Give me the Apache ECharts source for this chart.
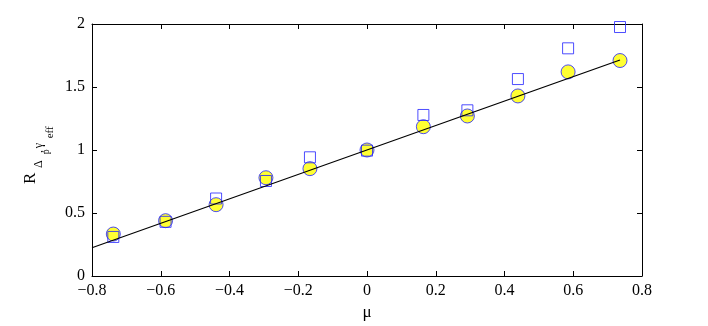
<!DOCTYPE html>
<html>
<head>
<meta charset="utf-8">
<script src="https://cdn.jsdelivr.net/npm/echarts@6/dist/echarts.min.js"></script>
<style>
  html, body { margin: 0; padding: 0; background: #fff; }
  #container { width: 708px; height: 326px; }
</style>
</head>
<body>
<div id="container"></div>
<script type="text/javascript">
    // mu values of the points
    var muVals = [-0.738, -0.586, -0.439, -0.294, -0.166, 0, 0.164, 0.292, 0.439, 0.585, 0.736];
    // circles (yellow)
    var circleVals = [0.333, 0.439, 0.566, 0.78, 0.852, 1.0, 1.185, 1.27, 1.429, 1.62, 1.71];
    // squares (hollow blue)
    var squareVals = [0.31, 0.43, 0.615, 0.754, 0.942, 0.995, 1.278, 1.315, 1.563, 1.807, 1.976];
    // straight fit line end points
    var lineX = [-0.8, 0.736];
    var lineY = [0.224, 1.714];

    var xTicks = [-0.8, -0.6, -0.4, -0.2, 0, 0.2, 0.4, 0.6, 0.8];
    var yTicks = [0, 0.5, 1, 1.5, 2];

    var font = 'Liberation Serif';

    function pairs(xs, ys) {
        return xs.map(function (x, i) { return [x, ys[i]]; });
    }

    var dom = document.getElementById('container');
    var myChart = echarts.init(dom);

    var axisLine = { show: true, onZero: false, lineStyle: { color: '#000', width: 1 } };
    var tick = { show: true, inside: true, length: 5, lineStyle: { color: '#000' } };

    // y label: R with subscripts, rotated
    function sub(txt, x, y, size) {
        return { type: 'text', x: x, y: y,
            style: { text: txt, font: size + 'px "Liberation Serif"', fill: '#000', verticalAlign: 'bottom' } };
    }

    var option = {
        animation: false,
        grid: { left: 92, right: 66, top: 24, bottom: 50 },
        xAxis: [{
            type: 'value',
            min: -0.8, max: 0.8, interval: 0.2,
            name: 'μ',
            nameLocation: 'middle',
            nameGap: 20,
            nameTextStyle: { fontFamily: font, fontSize: 17, color: '#000' },
            axisLine: axisLine,
            axisTick: tick,
            splitLine: { show: false },
            axisLabel: {
                fontFamily: font, fontSize: 16, color: '#000', margin: 7,
                formatter: function (v) {
                    var r = Math.round(v * 10) / 10;
                    return xTicks.indexOf(r) >= 0 ? String(r).replace('-', '\u2212') : '';
                }
            }
        }, {
            type: 'value', position: 'top',
            min: -0.8, max: 0.8, interval: 0.2,
            axisLine: axisLine, axisTick: tick,
            axisLabel: { show: false }, splitLine: { show: false }
        }],
        yAxis: [{
            type: 'value',
            min: 0, max: 2, interval: 0.5,
            axisLine: axisLine,
            axisTick: tick,
            splitLine: { show: false },
            axisLabel: {
                fontFamily: font, fontSize: 16, color: '#000', margin: 7,
                formatter: function (v) { return yTicks.indexOf(v) >= 0 ? String(v) : ''; }
            }
        }, {
            type: 'value', position: 'right',
            min: 0, max: 2, interval: 0.5,
            axisLine: axisLine, axisTick: tick,
            axisLabel: { show: false }, splitLine: { show: false }
        }],
        graphic: [{
            type: 'group',
            x: 35, y: 184,
            rotation: Math.PI / 2,
            children: [
                sub('R', 0, 3.7, 17),
                sub('Δ', 16, 10.3, 12),
                sub('p', 29.7, 16.2, 10),
                sub(',', 31, 10.3, 12),
                sub('γ', 35.7, 10.1, 12),
                sub('eff', 45.7, 21, 11)
            ]
        }],
        series: [{
            type: 'scatter',
            name: 'circles',
            symbol: 'circle',
            symbolSize: 14,
            itemStyle: { color: '#ffff00', borderColor: '#2020ff', borderWidth: 1 },
            data: pairs(muVals, circleVals),
            z: 2
        }, {
            type: 'scatter',
            name: 'squares',
            symbol: 'rect',
            symbolSize: 11,
            itemStyle: { color: 'rgba(0,0,0,0)', borderColor: '#2020ff', borderWidth: 1 },
            data: pairs(muVals, squareVals),
            z: 3
        }, {
            type: 'line',
            name: 'fit',
            showSymbol: false,
            lineStyle: { color: '#000', width: 1.2 },
            data: pairs(lineX, lineY),
            z: 4
        }]
    };

    myChart.setOption(option);
</script>
</body>
</html>
